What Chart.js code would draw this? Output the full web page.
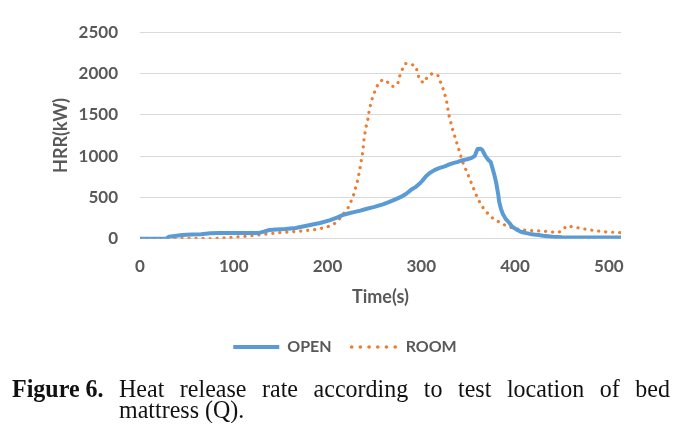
<!DOCTYPE html>
<html>
<head>
<meta charset="utf-8">
<script src="https://cdn.jsdelivr.net/npm/chart.js@4.4.1/dist/chart.umd.min.js"></script>
<style>
  html, body { margin: 0; padding: 0; background: #ffffff; }
  #wrap { position: relative; width: 690px; height: 426px; overflow: hidden; }
  #chartBox { position: absolute; left: 0; top: 0; width: 690px; height: 426px; }
  .cap { position: absolute; font-family: "Liberation Serif", "Times New Roman", serif; font-size: 24px;
    line-height: 24px; color: #111; transform: scaleY(1.08); transform-origin: 0 0; white-space: nowrap; }
  .lab { left: 12px; top: 375px; font-weight: bold; }
  .l1 { left: 119px; top: 375px; width: 551px; text-align: justify; text-align-last: justify; white-space: normal; }
  .l2 { left: 119px; top: 396px; }
</style>
</head>
<body>
<div id="wrap">
  <div id="chartBox"><canvas id="c"></canvas></div>
  <div class="cap lab">Figure 6.</div>
  <div class="cap l1">Heat release rate according to test location of bed</div>
  <div class="cap l2">mattress (Q).</div>
</div>
<script>
// ---- Data ----
const seriesNames = ["OPEN", "ROOM"];
const yTicks = [0, 500, 1000, 1500, 2000, 2500];
const xTicks = [0, 100, 200, 300, 400, 500];

const openTime = [0,10,20,28,31,35,45,55,65,75,85,100,115,127,132,138,145,155,166,175,184,192,202,210,216,222,228,235,241,250,259,266,273,279,284,290,294,298,301,305,309,314,319,325,330,334,339,344,349,353,357,360,363,365,368,371,374,376,378,380,382,383,385,387,390,394,397,401,405,408,412,416,420,425,430,440,450,470,490,512];
const openHRR  = [0,0,0,0,25,30,45,50,55,65,68,68,68,70,85,105,112,118,130,150,172,190,222,255,285,305,322,340,360,385,415,445,480,510,545,600,625,665,700,755,795,830,855,875,900,915,930,950,962,975,1000,1085,1090,1075,1010,960,930,850,770,670,540,450,360,300,240,190,145,115,90,78,68,58,50,45,35,25,18,15,15,15];

const roomTime = [0,20,34,50,65,77,91,102,113,122,131,140,148.5,160,170,180,188,195,202,207,211,216,219,221.5,224,226,228.5,230,232,234,236,237.5,239,241,243,244.7,247.5,251,254.6,259,264,267.8,272,275,277,279.6,283,289,294.5,296,298.8,302.7,307,312,317.6,321,323.7,326.6,329.4,333.7,336.5,339,344,349.7,355,360.6,367.5,376,387,397.5,407,415.6,430,445.8,449,452,455,460,469,480,497.5,512];
const roomHRR  = [0,0,3,5,3,2,12,20,30,42,52,62,72,82,91,102,113,130,152,180,215,290,330,365,420,480,550,620,700,810,945,1040,1210,1350,1440,1570,1690,1800,1890,1925,1895,1845,1845,1880,1970,2046,2120,2114,2084,2000,1913,1887,1970,2000,1978,1883,1800,1690,1500,1308,1213,1119,930,779,628,476,345,250,175,128,108,99,91,75,90,120,155,145,129,105,82,74];

const toPoints = (xs, ys) => xs.map((x, i) => ({ x: x, y: ys[i] }));

const gray = '#595959';
const tickFont = { family: 'Lato', size: 17, weight: 'bold' };
const titleFont = { family: 'Lato', size: 18, weight: 'bold' };

new Chart(document.getElementById('c'), {
  type: 'line',
  data: {
    datasets: [
      {
        label: seriesNames[0],
        data: toPoints(openTime, openHRR),
        borderColor: '#5B9BD5',
        backgroundColor: '#5B9BD5',
        borderWidth: 4,
        pointRadius: 0,
        tension: 0,
        borderJoinStyle: 'round',
        borderCapStyle: 'round'
      },
      {
        label: seriesNames[1],
        data: toPoints(roomTime, roomHRR),
        borderColor: '#ED7D31',
        backgroundColor: '#ED7D31',
        borderWidth: 3.2,
        borderDash: [0.1, 6.9],
        borderCapStyle: 'round',
        pointRadius: 0,
        tension: 0
      }
    ]
  },
  options: {
    responsive: true,
    maintainAspectRatio: false,
    animation: false,
    layout: { padding: { top: 18, right: 69, left: 69, bottom: 61 } },
    plugins: {
      tooltip: { enabled: false },
      legend: {
        position: 'bottom',
        labels: {
          usePointStyle: true,
          pointStyle: 'line',
          pointStyleWidth: 46,
          padding: 20,
          color: gray,
          font: { family: 'Lato', size: 16, weight: 'bold' },
          generateLabels: (chart) => {
            const items = Chart.defaults.plugins.legend.labels.generateLabels(chart);
            items[0].lineCap = 'butt';
            items[0].lineWidth = 4;
            items[1].lineDash = [0.1, 8.6];
            items[1].lineCap = 'round';
            items[1].lineWidth = 3.6;
            return items;
          }
        }
      }
    },
    scales: {
      x: {
        type: 'linear',
        min: 0,
        max: 513,
        afterBuildTicks: (s) => { s.ticks = xTicks.map(v => ({ value: v })); },
        afterFit: (s) => { s.height = 80.3; },
        grid: { display: false, drawTicks: false },
        border: { display: false },
        ticks: { padding: 18, color: gray, font: tickFont, maxRotation: 0, callback: (v) => String(v) },
        title: { display: true, text: 'Time(s)', color: gray, font: titleFont, padding: { top: 0, bottom: 11.2 } }
      },
      y: {
        min: 0,
        max: 2500,
        afterBuildTicks: (s) => { s.ticks = yTicks.map(v => ({ value: v })); },
        afterFit: (s) => { s.width = 71; },
        grid: { color: '#D9D9D9', lineWidth: 1, drawTicks: false },
        border: { display: false },
        ticks: { padding: 22, color: gray, font: tickFont, callback: (v) => String(v) },
        title: { display: true, text: 'HRR(kW)', color: gray, font: titleFont, padding: { top: -18.3, bottom: 0 } }
      }
    }
  }
});
</script>
</body>
</html>
